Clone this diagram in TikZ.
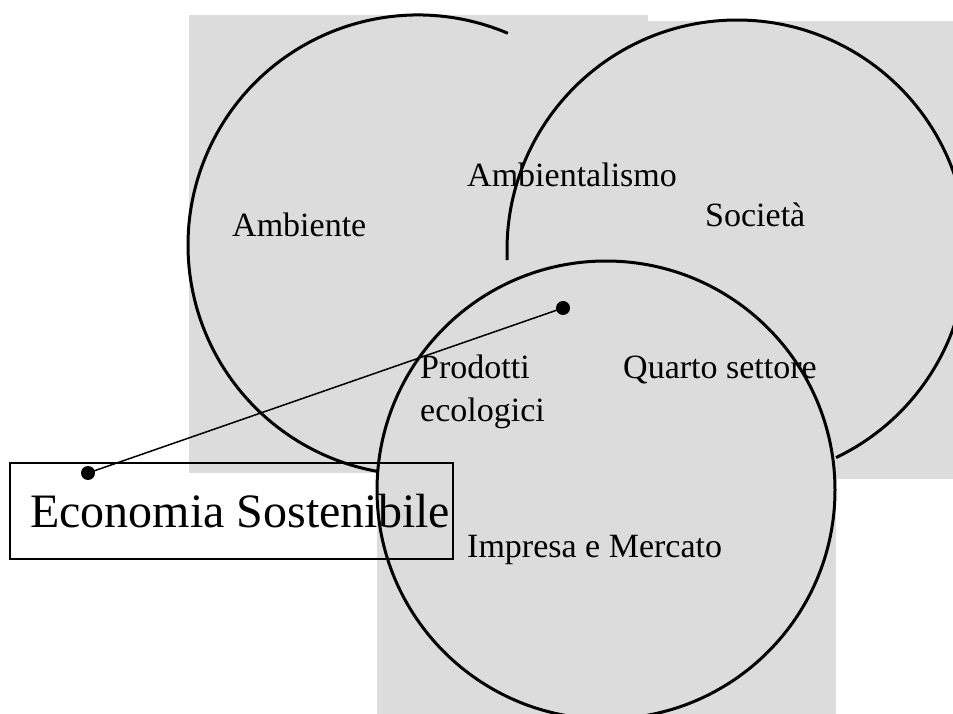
\documentclass[tikz,border=0pt]{standalone}
\usepackage{fontspec}
\setmainfont{Liberation Serif}
\definecolor{bggray}{RGB}{220,220,220}
\begin{document}
\begin{tikzpicture}[x=1pt,y=1pt,
  bgrect/.style={fill=bggray,draw=none},
  ring/.style={draw=black,line width=3pt},
  lbl/.style={anchor=base west,inner sep=0pt,font=\fontsize{34}{43}\selectfont},
  biglbl/.style={anchor=base west,inner sep=0pt,font=\fontsize{48}{56}\selectfont},
  dotnode/.style={circle,fill=black,inner sep=0pt,minimum size=14pt},
  framebox/.style={draw=black,line width=1.2pt,rectangle,inner sep=0pt,minimum width=443pt,minimum height=96pt}]
\useasboundingbox (0,0) rectangle (953,713);
\clip (0,0) rectangle (953,713);
% gray backgrounds
\fill[bggray] (189,240) rectangle (648,698);
\fill[bggray] (508,234) rectangle (967,692);
\fill[bggray] (377,-20) rectangle (836,452);
% circles
\draw[ring] (418,468) ++(67:230) arc[start angle=67,end angle=260,radius=230];
\draw[ring] (737,463) ++(182.5:230) arc[start angle=182.5,end angle=-64.5,radius=230];
\draw[ring] (606,223) circle[radius=229];
% labels
\node[lbl] (amb) at (232,476) {Ambiente};
\node[lbl] (ambism) at (467,526) {Ambientalismo};
\node[lbl] (soc) at (705,486) {Società};
\node[lbl] (prod) at (420,334) {Prodotti};
\node[lbl] (eco) at (420,291) {ecologici};
\node[lbl] (quarto) at (623,334) {Quarto settore};
\node[lbl] (impresa) at (467,156) {Impresa e Mercato};
% box
\node[framebox] (econbox) at (231.5,202) {};
\node[biglbl] (econ) at (30,186) {Economia Sostenibile};
% connector
\node[dotnode] (d1) at (563,405) {};
\node[dotnode] (d2) at (88,240) {};
\draw[line width=1.5pt] (d1.center) -- (d2.center);
\end{tikzpicture}
\end{document}
